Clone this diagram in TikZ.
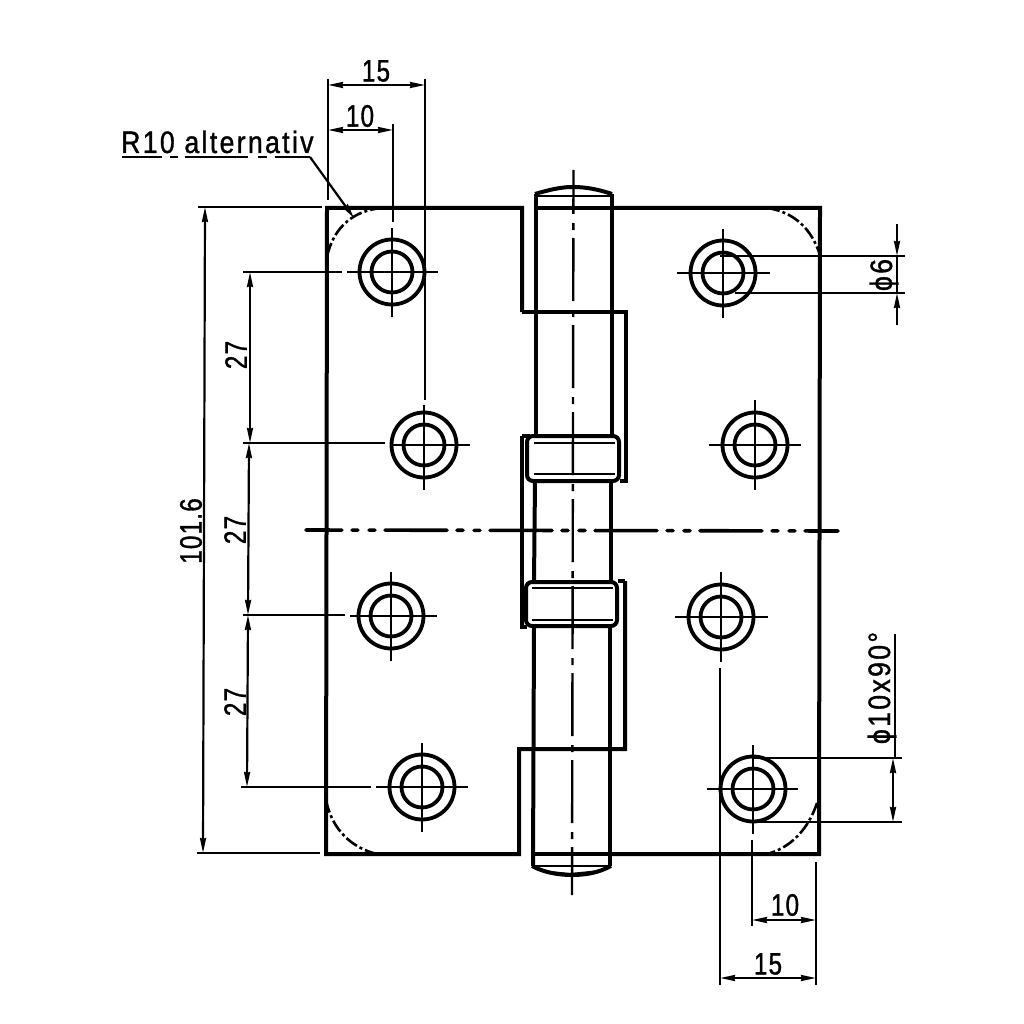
\documentclass[tikz,border=0pt]{standalone}
\usepackage{fontspec}
\setmainfont[FakeStretch=0.78,LetterSpace=4,FakeBold=1.1]{Liberation Sans}
\newfontfamily\widefont[FakeStretch=0.86,LetterSpace=7.5,FakeBold=1.1]{Liberation Sans}
\usetikzlibrary{arrows.meta}
\tikzset{
  thickline/.style={line width=4pt,line join=miter},
  medline/.style={line width=3.2pt},
  thinline/.style={line width=2.4pt},
  dimline/.style={line width=2.2pt,{Stealth[length=15pt,width=6pt,inset=1pt]}-{Stealth[length=15pt,width=6pt,inset=1pt]}},
  outarrow/.style={line width=2.2pt,-{Stealth[length=15pt,width=6pt,inset=1pt]}},
  centreline/.style={line width=2.4pt,dash pattern=on 63pt off 9pt on 7pt off 8pt,dash phase=19pt},
  mainaxis/.style={line width=3.6pt,line cap=round,dash pattern=on 62pt off 10pt on 6pt off 11pt on 6pt off 10pt,dash phase=26pt},
  phantomarc/.style={line width=2.6pt,dash pattern=on 13pt off 3pt on 3pt off 3pt},
  dimtext/.style={font=\fontsize{31}{31}\selectfont,inner sep=0pt,text=black},
  widetext/.style={font=\fontsize{31}{31}\selectfont\widefont,inner sep=0pt,text=black},
}
\newcommand{\holepair}[6]{%
  \coordinate (#1) at (#2,#3);
  \draw[line width=3.8pt] (#1) circle[radius=32.5];
  \draw[line width=3.8pt] (#1) circle[radius=20.5];
  \draw[thinline] (#4,#3) -- (#5,#3);
  \draw[thinline] (#2,#6) -- (#2,#3+45);
}
\begin{document}
\begin{tikzpicture}[x=1pt,y=-1pt]
\useasboundingbox (0,0) rectangle (1024,1024);
\fill[white] (0,0) rectangle (1024,1024);
% plate outline
\draw[thickline] (522,312) -- (522,208) -- (327,208) -- (326,854) -- (519,854) -- (519,749) -- (625,749) -- (625,581);
\draw[thickline] (612,208) -- (820,208) -- (819,854) -- (610,854);
\draw[medline] (536,208) -- (612,208);
\draw[medline] (533,854) -- (610,854);
\draw[thickline] (522,312) -- (626,312) -- (626,481) -- (620,481);
\draw[thickline] (522,436) -- (522,627) -- (527,627);
\draw[medline] (522,436) -- (530,436);
\draw[medline] (618,581) -- (625,581);
% pin
\draw[thickline] (535.5,436) -- (535.5,194);
\draw[thickline] (612,436) -- (612,194);
\draw[thickline] (535,481) -- (534,582);
\draw[thickline] (611,481) -- (611,582);
\draw[thickline] (534,627) -- (533,866);
\draw[thickline] (610,627) -- (610,866);
% domes
\draw[thickline] (535,194) .. controls (555,188) and (565,187) .. (573,187) .. controls (585,187) and (597,189) .. (612,194);
\draw[line width=1.6pt] (536,196) -- (612,196);
\draw[line width=1.6pt] (534,866) -- (610,866);
\draw[thickline] (532,866) .. controls (545,873) and (560,875) .. (572,875) .. controls (585,875) and (598,873) .. (611,866);
\fill (540,870) -- (570,873) -- (600,870) -- (590,875) -- (555,875) -- cycle;
% bands
\draw[thickline,fill=white,rounded corners=6pt] (527,436) rectangle (619,481);
\draw[thickline,fill=white,rounded corners=6pt] (526,582) rectangle (617,626);
\draw[thinline] (534,443) -- (615,443);
\draw[thinline] (534,474) -- (615,474);
\draw[thinline] (532,588) -- (613,588);
\draw[thinline] (532,620) -- (613,620);
% axes
\draw[centreline] (573.5,170) -- (572,895);
\draw[mainaxis] (306,530) -- (838,531);
% corner arcs
\draw[phantomarc] (383,208) .. controls (350,210) and (330,232) .. (326,263);
\draw[phantomarc] (767,208) .. controls (795,212) and (812,230) .. (820,255);
\draw[phantomarc] (817,803) .. controls (808,830) and (790,848) .. (767,854);
\draw[phantomarc] (326,800) .. controls (332,830) and (352,848) .. (377,854);
% holes
\holepair{h1}{392}{272}{347}{438}{228}
\holepair{h2}{424}{445}{390}{470}{405}
\holepair{h3}{391}{616}{350}{437}{572}
\holepair{h4}{422}{787}{376}{468}{743}
\holepair{h5}{723}{273}{677}{770}{229}
\holepair{h6}{755}{445}{709}{801}{400}
\holepair{h7}{721}{617}{675}{768}{572}
\holepair{h8}{753}{789}{707}{798}{745}
% top dimensions
\coordinate (e15a) at (328,79);
\coordinate (e15b) at (425,79);
\coordinate (e10b) at (393,124);
\draw[thinline] (e15a) -- (328,200);
\draw[thinline] (e15b) -- (425,400);
\draw[thinline] (e10b) -- (393,222);
\draw[dimline] (328,85) -- (425,85);
\draw[dimline] (328,130) -- (393,130);
\node[dimtext] (t15a) at (376,71) {15};
\node[dimtext] (t10a) at (360,116) {10};
% leader
\node[widetext,anchor=base west] (tR) at (121,153) {R10 alternativ};
\draw[line width=2.6pt] (122,157) -- (162,157);
\draw[line width=2.6pt] (170,157) -- (178,157);
\draw[line width=2.6pt] (185,157) -- (248,157);
\draw[line width=2.6pt] (258,157) -- (267,157);
\draw[line width=2.6pt] (275,157) -- (310,157);
\draw[outarrow] (310,157) -- (354,218);
% left dimensions
\draw[thinline] (198,207) -- (322,207);
\draw[thinline] (197,853) -- (320,853);
\draw[dimline] (205,207) -- (203,853);
\node[dimtext,rotate=90] (t101) at (191,531) {101.6};
\draw[thinline] (243,272) -- (342,272);
\draw[thinline] (243,443) -- (385,443);
\draw[thinline] (243,615) -- (345,615);
\draw[thinline] (241,787) -- (371,787);
\draw[dimline] (250,272) -- (250,443);
\draw[dimline] (249,443) -- (248,615);
\draw[dimline] (248,615) -- (247,787);
\node[dimtext,rotate=90] (t27a) at (236,355) {27};
\node[dimtext,rotate=90] (t27b) at (235,530) {27};
\node[dimtext,rotate=90] (t27c) at (235,702) {27};
% right dimensions
\draw[thinline] (720,256) -- (905,256);
\draw[thinline] (735,293) -- (905,293);
\draw[thinline] (897,256) -- (897,293);
\coordinate (p6a) at (897,224);
\coordinate (p6b) at (897,325);
\draw[outarrow] (p6a) -- (897,256);
\draw[outarrow] (p6b) -- (897,293);
\node[widetext,rotate=90] (t6) at (884,275) {ϕ6};
\draw[thinline] (753,758) -- (902,758);
\draw[thinline] (753,822) -- (902,822);
\draw[thinline] (895,634) -- (895,758);
\draw[dimline] (893,758) -- (893,822);
\node[widetext,rotate=90] (t90) at (882,688) {ϕ10x90°};
% bottom dimensions
\draw[thinline] (816,862) -- (816,985);
\draw[thinline] (720,668) -- (720,985);
\draw[thinline] (752,840) -- (752,926);
\draw[dimline] (752,920) -- (816,920);
\draw[dimline] (720,978) -- (816,978);
\node[dimtext] (t10b) at (785,905) {10};
\node[dimtext] (t15b) at (768,964) {15};
\end{tikzpicture}
\end{document}
